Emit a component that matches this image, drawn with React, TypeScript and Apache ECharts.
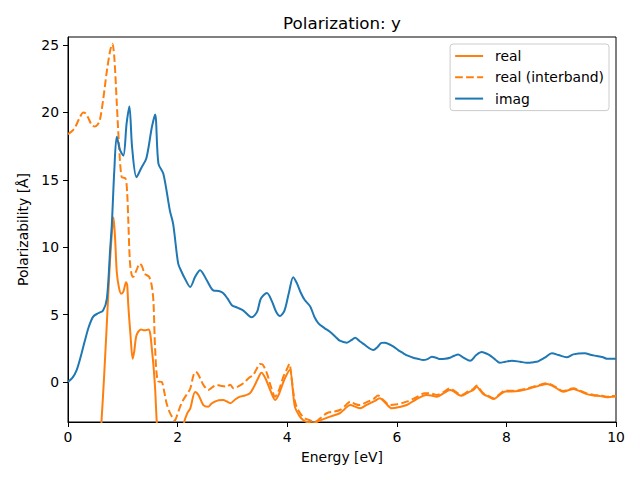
import React, { useEffect, useRef } from "react";
import * as echarts from "echarts";

const titleText = "Polarization: y";
const xAxisName = "Energy [eV]";
const yAxisName = "Polarizability [Å]";
const yTicks = [0, 5, 10, 15, 20, 25];

const imagE = [0, 0.08, 0.16, 0.24, 0.31, 0.38, 0.46, 0.55, 0.64, 0.71, 0.77, 0.8, 0.845, 0.89, 0.95, 1.01, 1.07, 1.12, 1.17, 1.25, 1.34, 1.43, 1.53, 1.59, 1.65, 1.74, 1.86, 1.92, 2.01, 2.07, 2.13, 2.23, 2.32, 2.41, 2.53, 2.65, 2.75, 2.83, 2.91, 2.99, 3.1, 3.2, 3.35, 3.45, 3.52, 3.63, 3.72, 3.8, 3.87, 3.95, 4.03, 4.11, 4.18, 4.25, 4.32, 4.42, 4.5, 4.57, 4.68, 4.78, 4.87, 4.96, 5.09, 5.17, 5.24, 5.33, 5.42, 5.5, 5.57, 5.65, 5.72, 5.78, 5.86, 5.94, 6.03, 6.12, 6.2, 6.3, 6.4, 6.48, 6.56, 6.64, 6.72, 6.79, 6.88, 6.97, 7.05, 7.12, 7.2, 7.34, 7.45, 7.55, 7.65, 7.73, 7.8, 7.88, 7.98, 8.1, 8.25, 8.37, 8.5, 8.58, 8.7, 8.83, 8.95, 9.1, 9.22, 9.43, 9.55, 9.65, 9.75, 9.83, 9.92, 10];
const imagV = [0, 0.3, 0.9, 2.0, 3.1, 4.1, 4.85, 5.1, 5.3, 6.2, 9.9, 11.7, 15.7, 18.2, 17.2, 16.8, 19.2, 20.45, 17.4, 15.2, 15.9, 16.6, 18.9, 19.85, 16.2, 15.45, 12.7, 11.7, 8.8, 8.2, 7.7, 7.05, 7.8, 8.3, 7.57, 6.8, 6.75, 6.6, 6.2, 5.7, 5.5, 5.3, 4.8, 5.2, 6.2, 6.6, 6.0, 5.2, 4.9, 5.3, 6.6, 7.77, 7.3, 6.6, 6.08, 5.6, 4.8, 4.35, 4.0, 3.73, 3.4, 3.06, 2.92, 3.1, 3.29, 3.0, 2.74, 2.5, 2.37, 2.6, 2.9, 2.92, 2.8, 2.62, 2.35, 2.13, 1.95, 1.8, 1.7, 1.63, 1.7, 1.88, 1.8, 1.7, 1.72, 1.8, 1.95, 2.03, 1.85, 1.58, 2.0, 2.22, 2.08, 1.88, 1.65, 1.43, 1.5, 1.58, 1.5, 1.43, 1.47, 1.53, 1.8, 2.13, 2.0, 1.83, 2.05, 2.13, 2.0, 1.93, 1.85, 1.73, 1.72, 1.73];

const interE = [0, 0.07, 0.13, 0.2, 0.28, 0.33, 0.37, 0.43, 0.49, 0.54, 0.58, 0.64, 0.71, 0.77, 0.81, 0.845, 0.89, 0.93, 0.98, 1.05, 1.08, 1.1, 1.13, 1.16, 1.19, 1.25, 1.31, 1.35, 1.4, 1.48, 1.53, 1.56, 1.59, 1.64, 1.71, 1.76, 1.8, 1.86, 1.92, 1.95, 1.98, 2.04, 2.1, 2.17, 2.23, 2.29, 2.33, 2.37, 2.42, 2.47, 2.56, 2.63, 2.71, 2.8, 2.9, 2.96, 3.02, 3.1, 3.2, 3.3, 3.38, 3.44, 3.5, 3.55, 3.63, 3.7, 3.78, 3.85, 3.93, 4.0, 4.04, 4.08, 4.12, 4.17, 4.25, 4.32, 4.42, 4.51, 4.6, 4.72, 4.85, 4.96, 5.05, 5.15, 5.25, 5.33, 5.45, 5.58, 5.66, 5.76, 5.88, 6.0, 6.18, 6.35, 6.51, 6.62, 6.73, 6.85, 6.97, 7.03, 7.1, 7.18, 7.3, 7.4, 7.46, 7.52, 7.58, 7.68, 7.77, 7.85, 7.98, 8.1, 8.25, 8.37, 8.49, 8.62, 8.74, 8.82, 8.89, 9.04, 9.14, 9.22, 9.35, 9.47, 9.59, 9.72, 9.83, 9.92, 10];
const interV = [18.4, 18.6, 18.9, 19.5, 20.0, 19.9, 19.6, 19.1, 18.95, 19.1, 19.4, 20.9, 23.1, 24.6, 25.1, 24.1, 20.7, 17.7, 15.2, 15.1, 14.0, 12.0, 8.9, 8.0, 7.8, 8.3, 8.78, 8.6, 8.03, 7.8, 7.1, 5.9, 2.47, 0.05, 0.0, -0.8, -1.6, -2.3, -2.72, -2.85, -2.6, -1.9, -1.36, -0.9, -0.5, 0.5, 0.75, 0.6, 0.2, -0.22, -0.6, -0.4, -0.22, -0.3, -0.35, -0.2, -0.47, -0.35, -0.1, 0.3, 0.52, 0.95, 1.34, 1.3, 0.64, -0.3, -1.09, -0.6, 0.39, 1.0, 1.34, 0.3, -1.0, -1.83, -2.4, -2.7, -2.85, -2.94, -2.7, -2.32, -2.2, -2.08, -1.8, -1.46, -1.65, -1.71, -1.5, -1.25, -1.01, -1.35, -1.71, -1.65, -1.46, -1.15, -0.84, -0.85, -0.96, -0.75, -0.47, -0.6, -0.8, -0.96, -0.7, -0.5, -0.27, -0.55, -0.84, -1.05, -1.21, -1.0, -0.64, -0.65, -0.6, -0.5, -0.35, -0.2, -0.1, -0.2, -0.35, -0.67, -0.55, -0.47, -0.65, -0.85, -0.96, -1.0, -1.09, -1.05, -1.04];

const realE = [0, 0.3, 0.5, 0.56, 0.61, 0.66, 0.71, 0.76, 0.8, 0.83, 0.86, 0.89, 0.93, 0.97, 1.01, 1.06, 1.08, 1.1, 1.14, 1.18, 1.21, 1.25, 1.33, 1.4, 1.47, 1.5, 1.53, 1.56, 1.59, 1.62, 1.66, 1.8, 1.95, 2.06, 2.12, 2.18, 2.23, 2.32, 2.38, 2.47, 2.56, 2.62, 2.68, 2.75, 2.83, 2.9, 2.96, 3.05, 3.14, 3.23, 3.32, 3.4, 3.46, 3.53, 3.6, 3.7, 3.78, 3.85, 3.95, 4.05, 4.1, 4.14, 4.22, 4.29, 4.38, 4.47, 4.6, 4.78, 4.96, 5.05, 5.15, 5.25, 5.33, 5.45, 5.6, 5.69, 5.8, 5.91, 6.05, 6.18, 6.35, 6.54, 6.63, 6.73, 6.85, 6.97, 7.03, 7.1, 7.18, 7.3, 7.4, 7.46, 7.52, 7.58, 7.68, 7.77, 7.85, 7.98, 8.1, 8.25, 8.37, 8.49, 8.62, 8.74, 8.82, 8.89, 9.04, 9.14, 9.22, 9.35, 9.47, 9.59, 9.72, 9.83, 9.92, 10];
const realV = [-30, -20, -10, -6, -3, 0.5, 4.45, 8.5, 11.0, 12.2, 10.6, 8.16, 7.0, 6.55, 6.7, 7.4, 7.2, 5.7, 3.5, 1.73, 2.3, 3.46, 3.9, 3.83, 3.9, 3.6, 2.47, 1.2, -0.5, -3, -5, -7, -7, -5, -3, -2.3, -1.98, -0.74, -0.96, -1.71, -1.83, -1.6, -1.46, -1.35, -1.34, -1.45, -1.58, -1.3, -1.09, -1.0, -0.84, -0.3, 0.2, 0.69, 0.3, -0.7, -1.34, -0.9, 0.2, 0.89, -0.5, -1.83, -2.5, -2.82, -3.0, -3.07, -2.85, -2.57, -2.32, -2.0, -1.71, -1.85, -1.95, -1.7, -1.4, -1.21, -1.6, -1.95, -1.85, -1.71, -1.3, -0.96, -1.0, -1.09, -0.85, -0.6, -0.68, -0.88, -1.03, -0.78, -0.58, -0.35, -0.62, -0.9, -1.1, -1.26, -1.05, -0.7, -0.7, -0.65, -0.55, -0.4, -0.25, -0.15, -0.25, -0.4, -0.72, -0.6, -0.52, -0.7, -0.9, -1.0, -1.05, -1.13, -1.1, -1.08];

const pairs = (xs: number[], ys: number[]) => xs.map((x, i) => [x, ys[i]]);

const FONT = "DejaVu Sans";
const ORANGE = "#ff7f0e";
const BLUE = "#1f77b4";

export default function App() {
  const ref = useRef<HTMLDivElement>(null);
  useEffect(() => {
    if (!ref.current) return;
    const chart = echarts.init(ref.current, undefined, { renderer: "svg" });
    chart.setOption({
      animation: false,
      backgroundColor: "#fff",
      textStyle: { fontFamily: FONT },
      title: {
        text: titleText,
        left: 342,
        top: 14,
        textAlign: "center",
        padding: 0,
        textStyle: { fontFamily: FONT, fontSize: 16.7, fontWeight: "normal", color: "#000" },
      },
      legend: {
        orient: "vertical",
        right: 31,
        top: 44,
        itemWidth: 28,
        itemHeight: 14,
        itemGap: 7.3,
        padding: [5, 5, 5, 4],
        borderColor: "#cccccc",
        borderWidth: 1,
        borderRadius: 3,
        backgroundColor: "rgba(255,255,255,0.8)",
        itemStyle: { opacity: 0 },
        textStyle: { fontFamily: FONT, fontSize: 13.9, color: "#000", padding: [0, 0, 0, 7], lineHeight: 14 },
        data: ["real", "real (interband)", "imag"],
      },
      grid: {
        left: 68,
        right: 24,
        top: 37,
        bottom: 58,
        show: true,
        borderColor: "#000",
        borderWidth: 1,
        backgroundColor: "transparent",
      },
      xAxis: {
        type: "value",
        min: 0,
        max: 10,
        interval: 2,
        name: xAxisName,
        nameLocation: "middle",
        nameGap: 28,
        nameTextStyle: { fontFamily: FONT, fontSize: 13.9, color: "#000" },
        axisLine: { show: true, onZero: false, lineStyle: { color: "#000", width: 1 } },
        axisTick: { show: true, length: 5, lineStyle: { color: "#000", width: 1 } },
        axisLabel: { fontFamily: FONT, fontSize: 13.9, color: "#000", margin: 8 },
        splitLine: { show: false },
      },
      yAxis: {
        type: "value",
        min: -2.97,
        max: 25.6,
        name: yAxisName,
        nameLocation: "middle",
        nameGap: 35,
        nameTextStyle: { fontFamily: FONT, fontSize: 13.9, color: "#000" },
        axisLine: { show: true, onZero: false, lineStyle: { color: "#000", width: 1 } },
        axisTick: { show: true, length: 5, customValues: yTicks, lineStyle: { color: "#000", width: 1 } },
        axisLabel: { fontFamily: FONT, fontSize: 13.9, color: "#000", margin: 9, customValues: yTicks },
        splitLine: { show: false },
      },
      series: [
        {
          name: "real",
          type: "line",
          data: pairs(realE, realV),
          showSymbol: false,
          symbol: "none",
          smooth: 0.3,
          clip: true,
          lineStyle: { color: ORANGE, width: 2 },
          itemStyle: { color: ORANGE },
        },
        {
          name: "real (interband)",
          type: "line",
          data: pairs(interE, interV),
          showSymbol: false,
          symbol: "none",
          smooth: 0.3,
          clip: true,
          lineStyle: { color: ORANGE, width: 2, type: [7.7, 3.3] },
          itemStyle: { color: ORANGE },
        },
        {
          name: "imag",
          type: "line",
          data: pairs(imagE, imagV),
          showSymbol: false,
          symbol: "none",
          smooth: 0.3,
          clip: true,
          lineStyle: { color: BLUE, width: 2 },
          itemStyle: { color: BLUE },
        },
      ],
    });
    return () => chart.dispose();
  }, []);
  return <div ref={ref} style={{ width: 640, height: 480, position: "absolute", left: 0, top: 0 }} />;
}
